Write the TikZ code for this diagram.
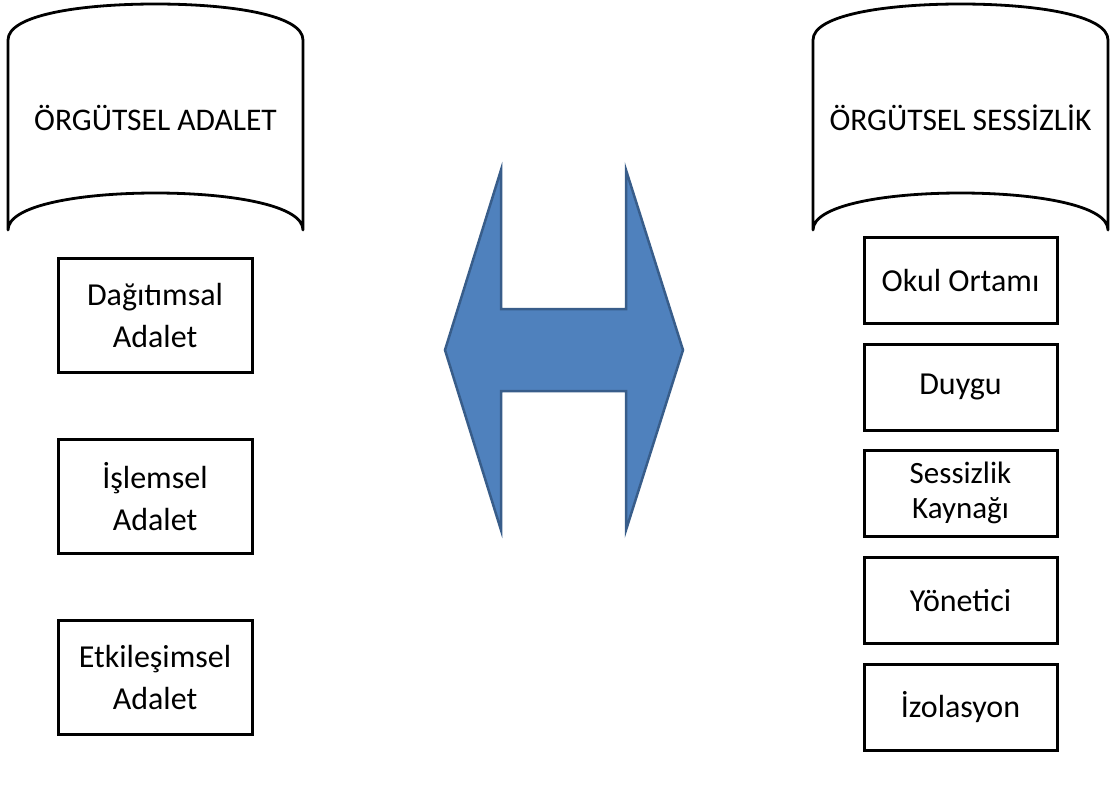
\documentclass[tikz,border=0pt]{standalone}
\usepackage{fontspec}
\setmainfont{Carlito}
\definecolor{arrowfill}{HTML}{4F81BD}
\definecolor{arrowline}{HTML}{385D8A}
\begin{document}
\begin{tikzpicture}[x=1pt,y=-1pt,
  scrollline/.style={draw=black,line width=2.8pt,line join=round},
  boxA/.style={draw=black,line width=3pt,minimum width=194pt,minimum height=114pt,inner sep=0pt,align=center,font=\fontsize{32}{42}\selectfont},
  boxB/.style={draw=black,line width=3pt,minimum width=193pt,minimum height=86pt,inner sep=0pt,align=center,font=\fontsize{32}{42}\selectfont},
  title/.style={font=\fontsize{31.5}{38}\selectfont,inner sep=0pt},
  bigarrow/.style={fill=arrowfill,draw=arrowline,line width=2.5pt,line join=miter}]
\useasboundingbox (0,0) rectangle (1115,785);
% left scroll
\draw[scrollline] (8,230) -- (8,40) .. controls (8,15) and (80,4) .. (155.5,4)
  .. controls (231,4) and (303,15) .. (303,40) -- (303,230)
  .. controls (303,205) and (230,193) .. (155.5,193)
  .. controls (81,193) and (8,205) .. (8,230) -- cycle;
\node[title] (oa) at (155.5,118) {ÖRGÜTSEL ADALET};
% right scroll
\draw[scrollline] (813,230) -- (813,40) .. controls (813,15) and (885,4) .. (960.5,4)
  .. controls (1036,4) and (1108,15) .. (1108,40) -- (1108,230)
  .. controls (1108,205) and (1035,193) .. (960.5,193)
  .. controls (886,193) and (813,205) .. (813,230) -- cycle;
\node[title] (os) at (960.5,118) {ÖRGÜTSEL SESSİZLİK};
% left boxes
\node[boxA] (b1) at (155,315) {Dağıtımsal\\Adalet};
\node[boxA] (b2) at (155,496.5) {İşlemsel\\Adalet};
\node[boxA] (b3) at (155,677.5) {Etkileşimsel\\Adalet};
% right boxes
\node[boxB] (r1) at (960.5,280) {Okul Ortamı};
\node[boxB] (r2) at (960.5,387) {Duygu};
\node[boxB,font=\fontsize{31}{35}\selectfont] (r3) at (960.5,493) {Sessizlik\\Kaynağı};
\node[boxB] (r4) at (960.5,600.5) {Yönetici};
\node[boxB] (r5) at (960.5,707.5) {İzolasyon};
% double arrow
\draw[bigarrow] (445,350) -- (501,170) -- (501,309) -- (626,309) -- (626,170)
  -- (683,350) -- (626,530) -- (626,391) -- (501,391) -- (501,530) -- cycle;
\end{tikzpicture}
\end{document}
